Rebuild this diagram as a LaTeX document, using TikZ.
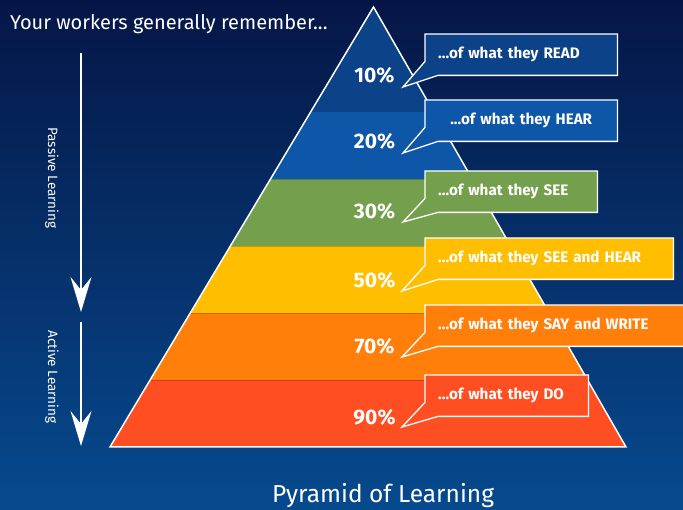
\documentclass[tikz,border=0pt]{standalone}
\usepackage{fontspec}
\setmainfont{Fira Sans}
\usetikzlibrary{arrows.meta,calc}
\pgfdeclarelayer{back}
\pgfsetlayers{back,main}
\definecolor{bgtop}{RGB}{5,22,70}
\definecolor{bgbot}{RGB}{6,74,142}
\definecolor{c10}{RGB}{12,66,136}
\definecolor{c20}{RGB}{14,86,168}
\definecolor{c30}{RGB}{116,160,78}
\definecolor{c50}{RGB}{255,191,0}
\definecolor{c70}{RGB}{255,127,10}
\definecolor{c90}{RGB}{255,78,34}

\begin{document}
\begin{tikzpicture}[x=1pt,y=-1pt]
\tikzstyle{Pct}=[text=white, font=\fontsize{21}{21}\selectfont\bfseries]
\tikzstyle{CallText}=[anchor=north west, text=white, font=\fontsize{15.2}{15.2}\selectfont\bfseries, minimum height=41pt, inner xsep=13pt, inner ysep=0pt, align=left]
\tikzstyle{CallBox}=[draw=white, line width=1.3pt, line join=miter]
\tikzstyle{Side}=[text=white, font=\fontsize{13.5}{13.5}\selectfont, rotate=-90]
\tikzstyle{LearnArrow}=[white, line width=2pt, -{Stealth[length=35pt,width=21pt,inset=13pt]}]
\tikzstyle{Band}=[draw=black, draw opacity=0.2, line width=0.6pt]

\clip (0,0) rectangle (683,510);

\coordinate (top) at (373.5,7);
\coordinate (bl) at (110,447);
\coordinate (br) at (626,447);

\node[text=white, font=\fontsize{20}{20}\selectfont, anchor=base west, inner sep=0pt] (title) at (10,30) {Your workers generally remember...};
\node[text=white, font=\fontsize{24.5}{24.5}\selectfont, anchor=base, inner sep=0pt] (caption) at (383,502) {Pyramid of Learning};

\coordinate (ps) at (81,53);
\coordinate (pe) at (81,312);
\coordinate (as) at (81,322);
\coordinate (ae) at (81,446);
\draw[LearnArrow] (ps) -- (pe);
\draw[LearnArrow] (as) -- (ae);
\node[Side] (passive) at (52,178) {Passive Learning};
\node[Side] (active) at (52,377) {Active Learning};

\node[Pct] (p10) at (374.5,75.5) {10\%};
\node[Pct] (p20) at (374.5,141) {20\%};
\node[Pct] (p30) at (374.5,211) {30\%};
\node[Pct] (p50) at (374.5,280) {50\%};
\node[Pct] (p70) at (374.5,346) {70\%};
\node[Pct] (p90) at (374.5,417) {90\%};

\coordinate (t10) at (403,87);
\coordinate (t20) at (403,153);
\coordinate (t30) at (403,222);
\coordinate (t50) at (402,291);
\coordinate (t70) at (402,357);
\coordinate (t90) at (402,427);

\node[CallText, text width=166pt] (r10) at (425,34) {...of what they READ};
\node[CallText, text width=166pt, align=center] (r20) at (425,100) {...of what they HEAR};
\node[CallText, text width=146pt] (r30) at (425,171) {...of what they SEE};
\node[CallText, text width=222pt] (r50) at (425,238) {...of what they SEE and HEAR};
\node[CallText, text width=244pt] (r70) at (425,305) {...of what they SAY and WRITE};
\node[CallText, text width=137pt] (r90) at (425,375) {...of what they DO};

\begin{pgfonlayer}{back}
\shade[top color=bgtop, bottom color=bgbot] (0,0) rectangle (683,510);
\begin{scope}
\clip (top) -- (bl) -- (br) -- cycle;
\filldraw[Band, fill=c10] (90,0) rectangle (650,111);
\filldraw[Band, fill=c20] (90,111) rectangle (650,179);
\filldraw[Band, fill=c30] (90,179) rectangle (650,246);
\filldraw[Band, fill=c50] (90,246) rectangle (650,313);
\filldraw[Band, fill=c70] (90,313) rectangle (650,380);
\filldraw[Band, fill=c90] (90,380) rectangle (650,460);
\end{scope}
\draw[white, line width=1.5pt, line join=miter] (top) -- (bl) -- (br) -- cycle;
\draw[CallBox, fill=c10] (r10.north west) -- (r10.north east) -- (r10.south east) -- ($(r10.south west)+(13,0)$) -- (t10) -- ($(r10.south west)+(0,-14)$) -- cycle;
\draw[CallBox, fill=c20] (r20.north west) -- (r20.north east) -- (r20.south east) -- ($(r20.south west)+(13,0)$) -- (t20) -- ($(r20.south west)+(0,-14)$) -- cycle;
\draw[CallBox, fill=c30] (r30.north west) -- (r30.north east) -- (r30.south east) -- ($(r30.south west)+(13,0)$) -- (t30) -- ($(r30.south west)+(0,-14)$) -- cycle;
\draw[CallBox, fill=c50] (r50.north west) -- (r50.north east) -- (r50.south east) -- ($(r50.south west)+(13,0)$) -- (t50) -- ($(r50.south west)+(0,-14)$) -- cycle;
\draw[CallBox, fill=c70] (r70.north west) -- (r70.north east) -- (r70.south east) -- ($(r70.south west)+(13,0)$) -- (t70) -- ($(r70.south west)+(0,-14)$) -- cycle;
\draw[CallBox, fill=c90] (r90.north west) -- (r90.north east) -- (r90.south east) -- ($(r90.south west)+(13,0)$) -- (t90) -- ($(r90.south west)+(0,-14)$) -- cycle;
\end{pgfonlayer}
\end{tikzpicture}
\end{document}
